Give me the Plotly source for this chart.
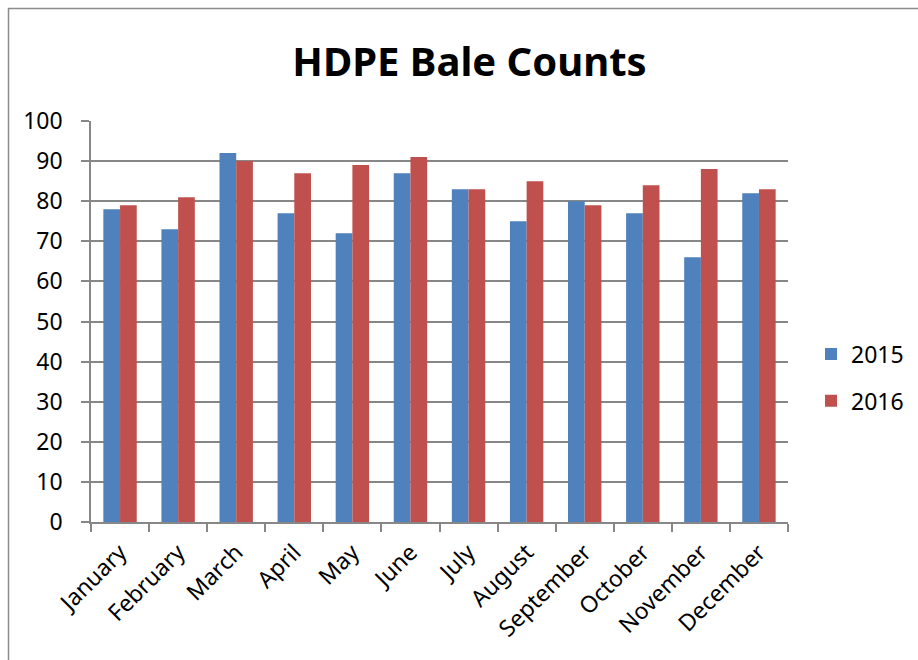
import plotly.graph_objects as go

months = ["January", "February", "March", "April", "May", "June", "July",
          "August", "September", "October", "November", "December"]
bales_2015 = [78, 73, 92, 77, 72, 87, 83, 75, 80, 77, 66, 82]
bales_2016 = [79, 81, 90, 87, 89, 91, 83, 85, 79, 84, 88, 83]
series_names = ["2015", "2016"]
y_ticks = list(range(0, 101, 10))

W, H = 918, 660
L, R, T, B = 91, 130, 121, 138
pw, ph = W - L - R, H - T - B

FONT = "Noto Sans"
GRID = "#878787"

fig = go.Figure()
fig.add_trace(go.Bar(x=months, y=bales_2015, name=series_names[0],
                     marker=dict(color="#4F81BD", line=dict(width=0)),
                     legendgroup="a"))
fig.add_trace(go.Bar(x=months, y=bales_2016, name=series_names[1],
                     marker=dict(color="#C0504D", line=dict(width=0)),
                     legendgroup="b"))


def px_x(p):
    return (p - L) / pw


def px_y(p):
    return (H - B - p) / ph


# outer chart frame
fig.add_shape(type="rect", xref="paper", yref="paper",
              x0=px_x(8.5), x1=px_x(930), y0=px_y(680), y1=px_y(8.5),
              line=dict(color="#8C8C8C", width=1.5), fillcolor="rgba(0,0,0,0)",
              layer="below")

fig.update_layout(
    width=W, height=H,
    margin=dict(l=L, r=R, t=T, b=B, pad=0, autoexpand=False),
    paper_bgcolor="white", plot_bgcolor="white",
    barmode="group", bargap=0.425, bargroupgap=0,
    font=dict(family=FONT, color="black", size=23),
    title=dict(text="<b>HDPE Bale Counts</b>", font=dict(family=FONT, size=40, color="black"),
               xref="container", yref="container", x=469.5 / W, y=1 - 62 / H,
               xanchor="center", yanchor="middle"),
    legend=dict(x=811 / W, y=1 - 377.5 / H, xanchor="left", yanchor="middle",
                xref="container", yref="container",
                font=dict(family=FONT, size=23, color="black"),
                traceorder="grouped", tracegroupgap=14,
                bgcolor="rgba(0,0,0,0)"),
    xaxis=dict(type="category", tickson="boundaries", ticks="outside", ticklen=8,
               tickcolor=GRID, tickwidth=1.5, showline=True, linecolor=GRID, linewidth=1.5,
               tickangle=-45, tickfont=dict(family=FONT, size=23, color="black"),
               ticklabelstandoff=6, showgrid=False, automargin=False),
    yaxis=dict(range=[0, 100], tickvals=y_ticks, ticks="outside", ticklen=8,
               tickcolor=GRID, tickwidth=1.5, showline=True, linecolor=GRID, linewidth=1.5,
               showgrid=True, gridcolor=GRID, gridwidth=1.5, zeroline=False,
               tickfont=dict(family=FONT, size=23, color="black"),
               ticklabelstandoff=14, automargin=False),
)

fig.write_html("out.html")
